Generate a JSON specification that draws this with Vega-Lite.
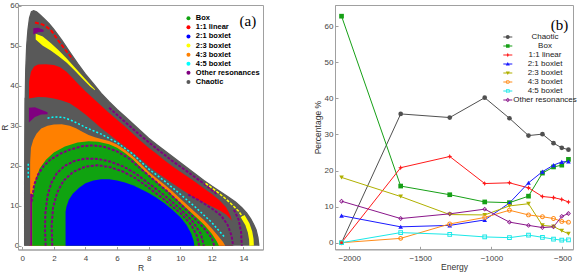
{
  "$schema": "https://vega.github.io/schema/vega-lite/v6.json",
  "padding": {"left": 0, "top": 1, "right": 0, "bottom": 0},
  "spacing": 48,
  "config": {
    "view": {"stroke": "#a0a0a0", "strokeWidth": 1},
    "axis": {"labelFont": "Liberation Sans", "titleFont": "Liberation Sans", "labelFontSize": 8, "titleFontSize": 8.5, "titleFontWeight": "normal", "labelColor": "#444", "titleColor": "#333", "domainColor": "#a0a0a0", "tickColor": "#a0a0a0", "tickSize": -3, "grid": false},
    "legend": {"labelFont": "Liberation Sans"}
  },
  "resolve": {"scale": {"color": "independent", "shape": "independent"}, "legend": {"color": "independent", "shape": "independent"}},
  "datasets": {
    "outer": [{"R":0.15,"z":0},{"R":0.15,"z":15},{"R":0.16,"z":25},{"R":0.18,"z":35},{"R":0.22,"z":44},{"R":0.28,"z":50},{"R":0.36,"z":54},{"R":0.46,"z":57},{"R":0.58,"z":58.5},{"R":0.72,"z":58.8},{"R":0.9,"z":58.5},{"R":1.1,"z":57.8},{"R":1.4,"z":56.7},{"R":1.7,"z":55.5},{"R":2.0,"z":54.1},{"R":2.5,"z":51.4},{"R":3.0,"z":48.5},{"R":3.5,"z":45.6},{"R":4.0,"z":42.9},{"R":4.5,"z":40.5},{"R":5.0,"z":38.1},{"R":5.5,"z":36.0},{"R":6.0,"z":34.1},{"R":6.5,"z":32.3},{"R":7.0,"z":30.5},{"R":7.5,"z":28.7},{"R":8.0,"z":26.9},{"R":8.5,"z":25.3},{"R":9.0,"z":23.8},{"R":9.5,"z":22.3},{"R":10.0,"z":20.8},{"R":10.5,"z":19.3},{"R":11.0,"z":17.8},{"R":11.5,"z":16.3},{"R":12.0,"z":14.9},{"R":12.5,"z":13.6},{"R":13.0,"z":12.3},{"R":13.5,"z":10.9},{"R":13.9,"z":9.5},{"R":14.2,"z":8.2},{"R":14.45,"z":6.8},{"R":14.65,"z":5.3},{"R":14.8,"z":4.0},{"R":14.92,"z":2.0},{"R":14.98,"z":0}],
    "red": [{"R":0.42,"z":36},{"R":0.43,"z":41},{"R":0.55,"z":43.5},{"R":0.75,"z":44.8},{"R":1.0,"z":45.3},{"R":1.5,"z":45.4},{"R":2.0,"z":45.2},{"R":2.4,"z":44.6},{"R":2.8,"z":43.5},{"R":3.2,"z":41.9},{"R":3.6,"z":40.2},{"R":4.0,"z":38.6},{"R":4.5,"z":36.8},{"R":5.0,"z":35.0},{"R":5.5,"z":33.2},{"R":6.0,"z":31.5},{"R":6.5,"z":29.8},{"R":7.0,"z":28.0},{"R":7.5,"z":26.2},{"R":8.0,"z":24.5},{"R":8.5,"z":23.0},{"R":9.0,"z":21.4},{"R":9.5,"z":19.9},{"R":10.0,"z":18.5},{"R":10.5,"z":17.2},{"R":11.0,"z":15.8},{"R":11.5,"z":14.3},{"R":12.0,"z":12.9},{"R":12.5,"z":11.3},{"R":12.9,"z":9.6},{"R":13.15,"z":7.8},{"R":13.3,"z":5.8}],
    "gray2": [{"R":0.15,"z":37},{"R":0.42,"z":36.8},{"R":1.0,"z":37.2},{"R":1.5,"z":37.1},{"R":2.0,"z":36.8},{"R":2.5,"z":36.3},{"R":3.0,"z":35.6},{"R":3.5,"z":34.3},{"R":4.0,"z":32.8},{"R":4.5,"z":31.1},{"R":5.0,"z":29.4},{"R":5.5,"z":27.9},{"R":6.0,"z":26.3},{"R":6.5,"z":24.8},{"R":7.0,"z":23.3},{"R":7.5,"z":21.6},{"R":8.0,"z":19.9},{"R":8.5,"z":18.4},{"R":9.0,"z":17.0},{"R":9.5,"z":15.6},{"R":10.0,"z":14.3},{"R":10.5,"z":13.0},{"R":11.0,"z":11.8},{"R":11.5,"z":10.8},{"R":12.0,"z":9.8},{"R":12.5,"z":8.8},{"R":12.9,"z":7.8},{"R":13.35,"z":6.0}],
    "orange": [{"R":0.5,"z":21},{"R":0.55,"z":24.5},{"R":0.7,"z":26.5},{"R":0.9,"z":28.0},{"R":1.2,"z":29.3},{"R":1.6,"z":30.0},{"R":2.0,"z":30.3},{"R":2.5,"z":30.4},{"R":3.0,"z":30.0},{"R":3.4,"z":29.4},{"R":3.8,"z":28.5},{"R":4.2,"z":27.7},{"R":4.6,"z":27.1},{"R":5.0,"z":26.7},{"R":5.5,"z":26.2},{"R":6.0,"z":25.3},{"R":6.5,"z":24.0},{"R":7.0,"z":22.4},{"R":7.5,"z":20.5},{"R":8.0,"z":18.5},{"R":8.5,"z":16.9},{"R":9.0,"z":15.3},{"R":9.5,"z":13.6},{"R":10.0,"z":11.8},{"R":10.5,"z":10.0},{"R":11.0,"z":8.2},{"R":11.5,"z":6.4},{"R":12.0,"z":4.3},{"R":12.4,"z":2.4},{"R":12.7,"z":1.0},{"R":12.85,"z":0}],
    "pcol": [{"R":0.5,"z":13},{"R":0.63,"z":13}],
    "green": [{"R":0.63,"z":12},{"R":0.8,"z":16},{"R":1.1,"z":19.3},{"R":1.5,"z":21.5},{"R":2.0,"z":23.3},{"R":2.7,"z":24.8},{"R":3.5,"z":25.8},{"R":4.2,"z":26.1},{"R":4.8,"z":26.0},{"R":5.5,"z":25.4},{"R":6.0,"z":24.5},{"R":6.5,"z":23.2},{"R":7.0,"z":21.6},{"R":7.5,"z":19.6},{"R":8.0,"z":17.6},{"R":8.5,"z":16.0},{"R":9.0,"z":14.4},{"R":9.5,"z":12.6},{"R":10.0,"z":10.8},{"R":10.5,"z":9.0},{"R":11.0,"z":7.2},{"R":11.5,"z":5.3},{"R":12.0,"z":3.0},{"R":12.3,"z":1.2},{"R":12.45,"z":0}],
    "blue": [{"R":2.74,"z":8.5},{"R":2.8,"z":9.8},{"R":2.95,"z":11.5},{"R":3.2,"z":13.0},{"R":3.6,"z":14.5},{"R":4.0,"z":15.6},{"R":4.5,"z":16.3},{"R":5.0,"z":16.6},{"R":5.5,"z":16.6},{"R":6.0,"z":16.3},{"R":6.5,"z":15.8},{"R":7.0,"z":15.1},{"R":7.5,"z":14.2},{"R":8.0,"z":13.2},{"R":8.5,"z":12.0},{"R":9.0,"z":10.6},{"R":9.5,"z":9.0},{"R":10.0,"z":7.2},{"R":10.4,"z":5.2},{"R":10.7,"z":3.0},{"R":10.85,"z":1.2},{"R":10.9,"z":0}],
    "parcs": [
      {"arc":"C","R":0.6,"z":11},{"arc":"C","R":0.75,"z":15.2},{"arc":"C","R":1.0,"z":17.8},{"arc":"C","R":1.35,"z":19.9},{"arc":"C","R":1.8,"z":21.6},{"arc":"C","R":2.4,"z":23.0},{"arc":"C","R":3.0,"z":24.0},{"arc":"C","R":3.8,"z":24.9},{"arc":"C","R":4.5,"z":25.1},{"arc":"C","R":5.2,"z":24.7},{"arc":"C","R":6.0,"z":23.6},{"arc":"C","R":6.8,"z":21.7},{"arc":"C","R":7.6,"z":18.9},{"arc":"C","R":8.4,"z":16.2},{"arc":"C","R":9.2,"z":13.5},{"arc":"C","R":10.0,"z":10.5},{"arc":"C","R":10.8,"z":7.3},{"arc":"C","R":11.5,"z":4.4},{"arc":"C","R":12.0,"z":1.9},{"arc":"C","R":12.15,"z":0},
      {"arc":"A","R":1.48,"z":0},{"arc":"A","R":1.44,"z":4},{"arc":"A","R":1.46,"z":8},{"arc":"A","R":1.6,"z":12.5},{"arc":"A","R":1.85,"z":15.8},{"arc":"A","R":2.2,"z":18.2},{"arc":"A","R":2.7,"z":20.0},{"arc":"A","R":3.3,"z":21.2},{"arc":"A","R":4.0,"z":21.8},{"arc":"A","R":4.8,"z":21.7},{"arc":"A","R":5.6,"z":21.0},{"arc":"A","R":6.4,"z":19.8},{"arc":"A","R":7.2,"z":18.0},{"arc":"A","R":8.0,"z":15.6},{"arc":"A","R":9.0,"z":12.6},{"arc":"A","R":10.0,"z":9.2},{"arc":"A","R":10.8,"z":6.0},{"arc":"A","R":11.3,"z":3.0},{"arc":"A","R":11.5,"z":0},
      {"arc":"B","R":1.9,"z":0},{"arc":"B","R":1.86,"z":5},{"arc":"B","R":1.95,"z":9.5},{"arc":"B","R":2.2,"z":13.2},{"arc":"B","R":2.6,"z":16.2},{"arc":"B","R":3.2,"z":18.4},{"arc":"B","R":4.0,"z":19.8},{"arc":"B","R":4.8,"z":20.1},{"arc":"B","R":5.6,"z":19.6},{"arc":"B","R":6.4,"z":18.5},{"arc":"B","R":7.2,"z":16.8},{"arc":"B","R":8.0,"z":14.5},{"arc":"B","R":9.0,"z":11.5},{"arc":"B","R":10.0,"z":8.2},{"arc":"B","R":10.7,"z":5.2},{"arc":"B","R":11.05,"z":2.5},{"arc":"B","R":11.2,"z":0},
      {"arc":"D","R":10.5,"z":12.8},{"arc":"D","R":11.2,"z":11.3},{"arc":"D","R":12.0,"z":9.3},{"arc":"D","R":12.6,"z":7.5},{"arc":"D","R":13.0,"z":5.2},{"arc":"D","R":13.25,"z":2.5},{"arc":"D","R":13.35,"z":0},
      {"arc":"E","R":13.4,"z":9.0},{"arc":"E","R":13.7,"z":6.5},{"arc":"E","R":13.85,"z":3.5},{"arc":"E","R":13.9,"z":0},
      {"arc":"F","R":5.5,"z":34.5},{"arc":"F","R":6.5,"z":31.0},{"arc":"F","R":7.5,"z":27.5},{"arc":"F","R":8.5,"z":24.3},{"arc":"F","R":9.5,"z":21.2},{"arc":"F","R":10.5,"z":18.4},{"arc":"F","R":11.5,"z":15.5},{"arc":"F","R":12.3,"z":13.0}
    ],
    "ppatch": [
      {"p":"L","R":0.42,"z":34.5,"z2":30.8},{"p":"L","R":0.8,"z":34.6,"z2":32.2},{"p":"L","R":1.2,"z":34.0,"z2":32.8},{"p":"L","R":1.6,"z":33.4,"z2":32.9},
      {"p":"T","R":0.7,"z":54.4,"z2":52.8},{"p":"T","R":1.0,"z":54.5,"z2":53.4},{"p":"T","R":1.35,"z":54.0,"z2":53.5}
    ],
    "yup": [{"R":0.85,"z":53.0,"z2":51.6},{"R":1.3,"z":52.3,"z2":50.0},{"R":1.8,"z":50.7,"z2":48.8},{"R":2.3,"z":48.9,"z2":47.4},{"R":2.8,"z":46.9,"z2":45.8},{"R":3.3,"z":44.7,"z2":43.9},{"R":3.8,"z":42.5,"z2":41.8},{"R":4.3,"z":40.3,"z2":39.8},{"R":4.6,"z":39.1,"z2":38.9}],
    "ythin": [{"R":11.6,"z":15.6},{"R":12.2,"z":13.9},{"R":12.8,"z":12.0},{"R":13.3,"z":10.2},{"R":13.7,"z":8.6},{"R":14.0,"z":7.0}],
    "ythick": [{"R":13.95,"z":7.4},{"R":14.25,"z":5.4},{"R":14.42,"z":3.4},{"R":14.5,"z":1.6},{"R":14.52,"z":0}],
    "redstreak": [{"R":0.8,"z":55.8},{"R":1.3,"z":55.3},{"R":1.8,"z":54.0},{"R":2.3,"z":51.2},{"R":2.8,"z":48.6},{"R":3.2,"z":46.6}],
    "cyan": [{"c":"M","R":1.6,"z":31.9},{"c":"M","R":2.0,"z":32.2},{"c":"M","R":2.6,"z":32.1},{"c":"M","R":3.2,"z":31.2},{"c":"M","R":4.0,"z":29.6},{"c":"M","R":5.0,"z":27.9},{"c":"M","R":6.0,"z":25.8},{"c":"M","R":7.0,"z":22.9},{"c":"M","R":8.0,"z":19.2},{"c":"M","R":9.0,"z":16.2},{"c":"M","R":10.0,"z":12.9},{"c":"M","R":11.0,"z":9.5},{"c":"M","R":12.0,"z":5.8},{"c":"M","R":12.8,"z":2.2},{"c":"L","R":0.38,"z":17},{"c":"L","R":0.38,"z":20.5}],
    "pct": [
      {"series":"Chaotic","E":-2054,"pct":0},{"series":"Chaotic","E":-1638,"pct":35.7},{"series":"Chaotic","E":-1293,"pct":34.7},{"series":"Chaotic","E":-1047,"pct":40.2},{"series":"Chaotic","E":-873,"pct":34.5},{"series":"Chaotic","E":-739,"pct":29.7},{"series":"Chaotic","E":-641,"pct":30.1},{"series":"Chaotic","E":-563,"pct":27.6},{"series":"Chaotic","E":-505,"pct":26.3},{"series":"Chaotic","E":-458,"pct":25.8},
      {"series":"Box","E":-2054,"pct":62.8},{"series":"Box","E":-1638,"pct":15.7},{"series":"Box","E":-1293,"pct":13.3},{"series":"Box","E":-1047,"pct":11.3},{"series":"Box","E":-873,"pct":11.1},{"series":"Box","E":-739,"pct":12.9},{"series":"Box","E":-641,"pct":19.3},{"series":"Box","E":-563,"pct":21.0},{"series":"Box","E":-505,"pct":21.5},{"series":"Box","E":-458,"pct":23.1},
      {"series":"1:1 linear","E":-2054,"pct":0},{"series":"1:1 linear","E":-1638,"pct":20.8},{"series":"1:1 linear","E":-1293,"pct":23.9},{"series":"1:1 linear","E":-1047,"pct":16.4},{"series":"1:1 linear","E":-873,"pct":16.6},{"series":"1:1 linear","E":-739,"pct":15.2},{"series":"1:1 linear","E":-641,"pct":12.8},{"series":"1:1 linear","E":-563,"pct":12.5},{"series":"1:1 linear","E":-505,"pct":12.0},{"series":"1:1 linear","E":-458,"pct":11.3},
      {"series":"2:1 boxlet","E":-2054,"pct":7.5},{"series":"2:1 boxlet","E":-1638,"pct":4.4},{"series":"2:1 boxlet","E":-1293,"pct":4.8},{"series":"2:1 boxlet","E":-1047,"pct":6.3},{"series":"2:1 boxlet","E":-873,"pct":11.0},{"series":"2:1 boxlet","E":-739,"pct":16.6},{"series":"2:1 boxlet","E":-641,"pct":19.7},{"series":"2:1 boxlet","E":-563,"pct":21.5},{"series":"2:1 boxlet","E":-505,"pct":22.4},{"series":"2:1 boxlet","E":-458,"pct":22.5},
      {"series":"2:3 boxlet","E":-2054,"pct":18.1},{"series":"2:3 boxlet","E":-1638,"pct":12.8},{"series":"2:3 boxlet","E":-1293,"pct":7.8},{"series":"2:3 boxlet","E":-1047,"pct":7.7},{"series":"2:3 boxlet","E":-873,"pct":10.2},{"series":"2:3 boxlet","E":-739,"pct":10.8},{"series":"2:3 boxlet","E":-641,"pct":4.8},{"series":"2:3 boxlet","E":-563,"pct":4.5},{"series":"2:3 boxlet","E":-505,"pct":3.3},{"series":"2:3 boxlet","E":-458,"pct":2.5},
      {"series":"4:3 boxlet","E":-2054,"pct":0},{"series":"4:3 boxlet","E":-1638,"pct":1.2},{"series":"4:3 boxlet","E":-1293,"pct":5.2},{"series":"4:3 boxlet","E":-1047,"pct":7.0},{"series":"4:3 boxlet","E":-873,"pct":9.0},{"series":"4:3 boxlet","E":-739,"pct":7.7},{"series":"4:3 boxlet","E":-641,"pct":7.2},{"series":"4:3 boxlet","E":-563,"pct":6.7},{"series":"4:3 boxlet","E":-505,"pct":5.9},{"series":"4:3 boxlet","E":-458,"pct":5.7},
      {"series":"4:5 boxlet","E":-2054,"pct":0},{"series":"4:5 boxlet","E":-1638,"pct":2.8},{"series":"4:5 boxlet","E":-1293,"pct":2.3},{"series":"4:5 boxlet","E":-1047,"pct":1.6},{"series":"4:5 boxlet","E":-873,"pct":1.4},{"series":"4:5 boxlet","E":-739,"pct":2.1},{"series":"4:5 boxlet","E":-641,"pct":1.5},{"series":"4:5 boxlet","E":-563,"pct":1.0},{"series":"4:5 boxlet","E":-505,"pct":0.7},{"series":"4:5 boxlet","E":-458,"pct":0.8},
      {"series":"Other resonances","E":-2054,"pct":11.5},{"series":"Other resonances","E":-1638,"pct":6.7},{"series":"Other resonances","E":-1293,"pct":8.0},{"series":"Other resonances","E":-1047,"pct":9.3},{"series":"Other resonances","E":-873,"pct":5.7},{"series":"Other resonances","E":-739,"pct":4.8},{"series":"Other resonances","E":-641,"pct":4.2},{"series":"Other resonances","E":-563,"pct":4.4},{"series":"Other resonances","E":-505,"pct":7.3},{"series":"Other resonances","E":-458,"pct":8.1}
    ]
  },
  "hconcat": [
    {
      "width": 245,
      "height": 244.5,
      "encoding": {
        "x": {"field": "R", "type": "quantitative", "scale": {"domain": [-0.27, 15.24], "nice": false, "zero": false}, "axis": {"title": "R", "values": [0, 2, 4, 6, 8, 10, 12, 14], "labelPadding": 7.5, "titlePadding": 1}},
        "y": {"field": "z", "type": "quantitative", "stack": null, "scale": {"domain": [-0.95, 60.2], "nice": false, "zero": false}, "axis": {"title": "R", "values": [0, 10, 20, 30, 40, 50, 60], "labelPadding": 2.3, "titlePadding": 0}}
      },
      "layer": [
        {"data": {"name": "outer"}, "mark": {"type": "area", "line": {"color": "#000000", "strokeWidth": 1.3}, "opacity": 1},
         "encoding": {"color": {"datum": "Chaotic", "type": "nominal",
           "scale": {"domain": ["Box", "1:1 linear", "2:1 boxlet", "2:3 boxlet", "4:3 boxlet", "4:5 boxlet", "Other resonances", "Chaotic"], "range": ["#10a310", "#ff0000", "#0000ff", "#ffff00", "#ff8000", "#00ffff", "#800080", "#595959"]},
           "legend": {"orient": "none", "legendX": 166.7, "legendY": 9.5, "title": null, "symbolType": "circle", "symbolSize": 16, "symbolStrokeWidth": 0, "labelFontSize": 7.5, "labelFontWeight": "bold", "labelColor": "#000", "labelOffset": 3.6, "rowPadding": 0.1, "padding": 0}}}},
        {"data": {"name": "red"}, "mark": {"type": "area", "opacity": 1}, "encoding": {"color": {"datum": "1:1 linear", "type": "nominal"}}},
        {"data": {"name": "gray2"}, "mark": {"type": "area", "opacity": 1}, "encoding": {"color": {"datum": "Chaotic", "type": "nominal"}}},
        {"data": {"name": "orange"}, "mark": {"type": "area", "opacity": 1}, "encoding": {"color": {"datum": "4:3 boxlet", "type": "nominal"}}},
        {"data": {"name": "pcol"}, "mark": {"type": "area", "opacity": 1}, "encoding": {"color": {"datum": "Other resonances", "type": "nominal"}}},
        {"data": {"name": "green"}, "mark": {"type": "area", "opacity": 1}, "encoding": {"color": {"datum": "Box", "type": "nominal"}}},
        {"data": {"name": "blue"}, "mark": {"type": "area", "opacity": 1}, "encoding": {"color": {"datum": "2:1 boxlet", "type": "nominal"}}},
        {"data": {"name": "parcs"}, "mark": {"type": "line", "strokeWidth": 2, "strokeDash": [3, 1.5]}, "encoding": {"color": {"datum": "Other resonances", "type": "nominal"}, "detail": {"field": "arc"}, "order": {"value": null}}},
        {"data": {"name": "ppatch"}, "mark": {"type": "area", "opacity": 1}, "encoding": {"y2": {"field": "z2"}, "color": {"datum": "Other resonances", "type": "nominal"}, "detail": {"field": "p"}}},
        {"data": {"name": "yup"}, "mark": {"type": "area", "opacity": 1}, "encoding": {"y2": {"field": "z2"}, "color": {"datum": "2:3 boxlet", "type": "nominal"}}},
        {"data": {"name": "ythin"}, "mark": {"type": "line", "strokeWidth": 1.5, "strokeDash": [3, 1.5]}, "encoding": {"color": {"datum": "2:3 boxlet", "type": "nominal"}, "order": {"value": null}}},
        {"data": {"name": "ythick"}, "mark": {"type": "line", "strokeWidth": 4.5}, "encoding": {"color": {"datum": "2:3 boxlet", "type": "nominal"}, "order": {"value": null}}},
        {"data": {"name": "redstreak"}, "mark": {"type": "line", "strokeWidth": 2, "strokeDash": [4, 2]}, "encoding": {"color": {"datum": "1:1 linear", "type": "nominal"}, "order": {"value": null}}},
        {"data": {"name": "cyan"}, "mark": {"type": "line", "strokeWidth": 1.5, "strokeDash": [2, 2]}, "encoding": {"color": {"datum": "4:5 boxlet", "type": "nominal"}, "detail": {"field": "c"}, "order": {"value": null}}},
        {"data": {"values": [{"R": 14.28, "z": 56.2, "t": "(a)"}]}, "mark": {"type": "text", "font": "Liberation Serif", "fontSize": 15, "color": "#000"}, "encoding": {"text": {"field": "t"}}}
      ]
    },
    {
      "width": 238,
      "height": 244.3,
      "encoding": {
        "x": {"field": "E", "type": "quantitative", "scale": {"domain": [-2100, -426], "nice": false, "zero": false}, "axis": {"title": "Energy", "values": [-2000, -1500, -1000, -500], "format": "d", "labelPadding": 8, "titlePadding": 0}},
        "y": {"field": "pct", "type": "quantitative", "scale": {"domain": [-1.83, 65.9], "nice": false, "zero": false}, "axis": {"title": "Percentage %", "values": [0, 10, 20, 30, 40, 50, 60], "labelPadding": 5, "titlePadding": 2}}
      },
      "layer": [
        {"data": {"name": "pct"}, "mark": {"type": "line", "strokeWidth": 1},
         "encoding": {"color": {"field": "series", "type": "nominal",
           "scale": {"domain": ["Chaotic", "Box", "1:1 linear", "2:1 boxlet", "2:3 boxlet", "4:3 boxlet", "4:5 boxlet", "Other resonances"], "range": ["#505050", "#16a016", "#ff1a1a", "#1a1aff", "#b0b000", "#ff8c1a", "#1ae8e8", "#8a168a"]}}}},
        {"data": {"name": "pct"}, "transform": [{"filter": "datum.series === 'Chaotic'"}], "mark": {"type": "point", "filled": true, "opacity": 1, "size": 22, "shape": "circle"}, "encoding": {"color": {"field": "series", "type": "nominal"}}},
        {"data": {"name": "pct"}, "transform": [{"filter": "datum.series === 'Box'"}], "mark": {"type": "point", "filled": true, "opacity": 1, "size": 22, "shape": "square"}, "encoding": {"color": {"field": "series", "type": "nominal"}}},
        {"data": {"name": "pct"}, "transform": [{"filter": "datum.series === '1:1 linear'"}], "mark": {"type": "point", "filled": true, "opacity": 1, "size": 26, "shape": "M0,-1L0.3,-0.3L1,0L0.3,0.3L0,1L-0.3,0.3L-1,0L-0.3,-0.3Z"}, "encoding": {"color": {"field": "series", "type": "nominal"}}},
        {"data": {"name": "pct"}, "transform": [{"filter": "datum.series === '2:1 boxlet'"}], "mark": {"type": "point", "filled": true, "opacity": 1, "size": 22, "shape": "triangle-up"}, "encoding": {"color": {"field": "series", "type": "nominal"}}},
        {"data": {"name": "pct"}, "transform": [{"filter": "datum.series === '2:3 boxlet'"}], "mark": {"type": "point", "filled": true, "opacity": 1, "size": 22, "shape": "triangle-down"}, "encoding": {"color": {"field": "series", "type": "nominal"}}},
        {"data": {"name": "pct"}, "transform": [{"filter": "datum.series === '4:3 boxlet'"}], "mark": {"type": "point", "filled": true, "opacity": 1, "size": 24, "shape": "M1,0A1,1,0,1,1,-1,0A1,1,0,1,1,1,0ZM0.6,0A0.6,0.6,0,1,0,-0.6,0A0.6,0.6,0,1,0,0.6,0Z"}, "encoding": {"color": {"field": "series", "type": "nominal"}}},
        {"data": {"name": "pct"}, "transform": [{"filter": "datum.series === '4:5 boxlet'"}], "mark": {"type": "point", "filled": true, "opacity": 1, "size": 22, "shape": "M-1,-1H1V1H-1ZM-0.6,-0.6V0.6H0.6V-0.6Z"}, "encoding": {"color": {"field": "series", "type": "nominal"}}},
        {"data": {"name": "pct"}, "transform": [{"filter": "datum.series === 'Other resonances'"}], "mark": {"type": "point", "filled": true, "opacity": 1, "size": 24, "shape": "M0,-1L1,0L0,1L-1,0ZM0,-0.55L-0.55,0L0,0.55L0.55,0Z"}, "encoding": {"color": {"field": "series", "type": "nominal"}}},
        {"data": {"name": "pct"}, "mark": {"type": "point", "filled": true, "opacity": 0, "size": 1},
         "encoding": {
           "color": {"field": "series", "type": "nominal",
             "legend": {"orient": "none", "legendX": 168.3, "legendY": 27.5, "title": null, "symbolSize": 81, "symbolStrokeWidth": 0, "symbolOpacity": 1, "labelFontSize": 8, "labelColor": "#222", "labelAlign": "center", "labelOffset": 32.7, "rowPadding": 0, "padding": 0}},
           "shape": {"field": "series", "type": "nominal",
             "scale": {"domain": ["Chaotic", "Box", "1:1 linear", "2:1 boxlet", "2:3 boxlet", "4:3 boxlet", "4:5 boxlet", "Other resonances"],
               "range": ["M-1,-0.12H1V0.12H-1ZM0.45,0A0.45,0.45,0,1,1,-0.45,0A0.45,0.45,0,1,1,0.45,0Z", "M-1,-0.12H1V0.12H-1ZM-0.4,-0.4H0.4V0.4H-0.4Z", "M-1,-0.12H1V0.12H-1ZM0,-0.5L0.15,-0.15L0.5,0L0.15,0.15L0,0.5L-0.15,0.15L-0.5,0L-0.15,-0.15Z", "M-1,-0.12H1V0.12H-1ZM0,-0.45L0.45,0.35H-0.45Z", "M-1,-0.12H1V0.12H-1ZM-0.45,-0.35H0.45L0,0.45Z", "M-1,-0.12H1V0.12H-1ZM0.45,0A0.45,0.45,0,1,1,-0.45,0A0.45,0.45,0,1,1,0.45,0ZM0.28,0A0.28,0.28,0,1,0,-0.28,0A0.28,0.28,0,1,0,0.28,0Z", "M-1,-0.12H1V0.12H-1ZM-0.4,-0.4H0.4V0.4H-0.4ZM-0.25,-0.25V0.25H0.25V-0.25Z", "M-1,-0.12H1V0.12H-1ZM0,-0.5L0.5,0L0,0.5L-0.5,0ZM0,-0.3L-0.3,0L0,0.3L0.3,0Z"]},
             "legend": {"orient": "none", "legendX": 168.3, "legendY": 27.5, "title": null, "symbolSize": 81, "symbolStrokeWidth": 0, "symbolOpacity": 1, "labelFontSize": 8, "labelColor": "#222", "labelAlign": "center", "labelOffset": 32.7, "rowPadding": 0, "padding": 0}}
         }},
        {"data": {"values": [{"E": -521, "pct": 60.4, "t": "(b)"}]}, "mark": {"type": "text", "font": "Liberation Serif", "fontSize": 15, "color": "#000"}, "encoding": {"text": {"field": "t"}}}
      ]
    }
  ]
}
